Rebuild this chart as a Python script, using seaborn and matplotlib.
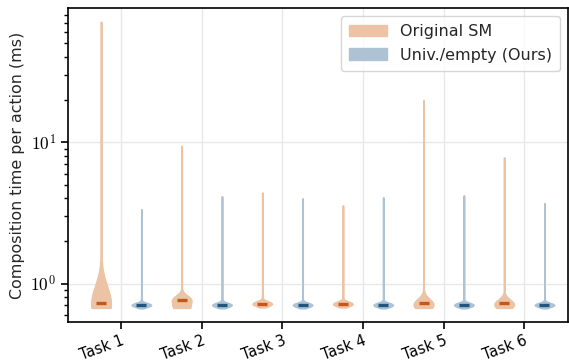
import numpy as np
import pandas as pd
import matplotlib
matplotlib.use("Agg")
import matplotlib.pyplot as plt
from matplotlib.patches import Patch
from matplotlib.ticker import FixedLocator, NullFormatter
import seaborn as sns

# ---------------- data (values in ms, with repeat counts) -----
tasks = ["Task 1", "Task 2", "Task 3", "Task 4", "Task 5", "Task 6"]
methods = ["Original SM", "Univ./empty (Ours)"]

orig_t1_vals = [0.675, 0.70, 0.73, 0.76, 0.80, 5.0, 20.0, 71.0]
orig_t1_cnts = [22, 14, 17, 14, 7, 1, 1, 1]
orig_t2_vals = [0.675, 0.77, 0.80, 9.4]
orig_t2_cnts = [96, 104, 10, 1]
orig_t3_vals = [0.68, 0.69, 0.705, 0.72, 0.735, 0.75, 4.4]
orig_t3_cnts = [5, 30, 80, 150, 80, 30, 1]
orig_t4_vals = [0.68, 0.69, 0.705, 0.72, 0.735, 0.75, 3.57]
orig_t4_cnts = [5, 30, 80, 140, 60, 15, 1]
orig_t5_vals = [0.675, 0.70, 0.725, 0.75, 0.78, 19.9]
orig_t5_cnts = [60, 45, 75, 30, 9, 1]
orig_t6_vals = [0.675, 0.70, 0.73, 0.76, 0.79, 7.8]
orig_t6_cnts = [54, 42, 66, 24, 6, 1]

ours_core_vals = [0.67, 0.685, 0.698, 0.71, 0.722, 0.735]
ours_core_cnts = [5, 50, 120, 160, 60, 15]
ours_max = [3.35, 4.14, 4.0, 4.07, 4.2, 3.7]

orig_vals = [orig_t1_vals, orig_t2_vals, orig_t3_vals, orig_t4_vals, orig_t5_vals, orig_t6_vals]
orig_cnts = [orig_t1_cnts, orig_t2_cnts, orig_t3_cnts, orig_t4_cnts, orig_t5_cnts, orig_t6_cnts]

rows = []
for t, v, c in zip(tasks, orig_vals, orig_cnts):
    for val in np.repeat(v, c):
        rows.append((t, methods[0], val))
for t, m in zip(tasks, ours_max):
    for val in np.repeat(ours_core_vals + [m], ours_core_cnts + [1]):
        rows.append((t, methods[1], val))
df = pd.DataFrame(rows, columns=["task", "method", "time"])
# densities are estimated on the log10 of the times; the axis is labelled in powers of ten
df["log_time"] = np.log10(df["time"])

fill_colors = ["#ecc3a5", "#adc2d2"]
median_colors = ["#c8561a", "#1f5680"]

# ---------------- style ----------------
sns.set_theme(style="whitegrid")
plt.rcParams.update({
    "font.family": ["DejaVu Sans"],
    "mathtext.fontset": "cm",
    "axes.edgecolor": "black",
    "axes.linewidth": 1.2,
    "grid.color": "#e8e8e8",
    "grid.linewidth": 1.0,
    "xtick.bottom": True,
    "ytick.left": True,
    "xtick.color": "black",
    "ytick.color": "black",
    "xtick.major.size": 5,
    "ytick.major.size": 5,
    "ytick.minor.size": 3,
    "xtick.major.width": 1.2,
    "ytick.major.width": 1.2,
    "ytick.minor.width": 1.0,
})

fig, ax = plt.subplots(figsize=(5.69, 3.62), dpi=100)
fig.subplots_adjust(left=0.1195, right=0.998, bottom=0.1105, top=0.978)

sns.violinplot(data=df, x="task", y="log_time", hue="method", order=tasks, hue_order=methods,
               palette=fill_colors, saturation=1, cut=0, inner=None,
               density_norm="width", width=1.0, gap=0.52, linewidth=1.3,
               legend=False, ax=ax)
for coll in ax.collections:
    fc = coll.get_facecolor()
    coll.set_edgecolor(fc)

sns.pointplot(data=df, x="task", y="log_time", hue="method", order=tasks, hue_order=methods,
              palette=median_colors, estimator="median", errorbar=None, dodge=0.5,
              linestyle="none", marker="_", markersize=7, markeredgewidth=2.4,
              legend=False, ax=ax)

ax.set_ylim(np.log10(0.535), np.log10(89))
ax.set_xlim(-0.66, 5.54)
ax.set_yticks([0, 1])
ax.set_yticklabels([r"$10^0$", r"$10^1$"], fontsize=12.5)
minor_vals = [0.6, 0.7, 0.8, 0.9, 2, 3, 4, 5, 6, 7, 8, 9, 20, 30, 40, 50, 60, 70, 80]
ax.yaxis.set_minor_locator(FixedLocator(np.log10(minor_vals)))
ax.yaxis.set_minor_formatter(NullFormatter())
ax.grid(True, which="major", axis="both")
ax.grid(False, which="minor")

ax.set_xlabel("")
ax.set_ylabel("Composition time per action (ms)", fontsize=11.4, labelpad=4)
ax.set_xticks(range(len(tasks)))
ax.set_xticklabels(tasks, rotation=20, ha="right", rotation_mode="anchor", fontsize=10.5)
ax.tick_params(axis="x", pad=3)

for s in ax.spines.values():
    s.set_color("black")
    s.set_linewidth(1.2)

handles = [Patch(facecolor=fill_colors[0], edgecolor=fill_colors[0], label=methods[0]),
           Patch(facecolor=fill_colors[1], edgecolor=fill_colors[1], label=methods[1])]
ax.legend(handles=handles, loc="upper right", fontsize=11.5, frameon=True,
          handlelength=2.4, handleheight=0.75, borderpad=0.5, labelspacing=0.55,
          handletextpad=0.8)

fig.savefig("out.png", dpi=100)
